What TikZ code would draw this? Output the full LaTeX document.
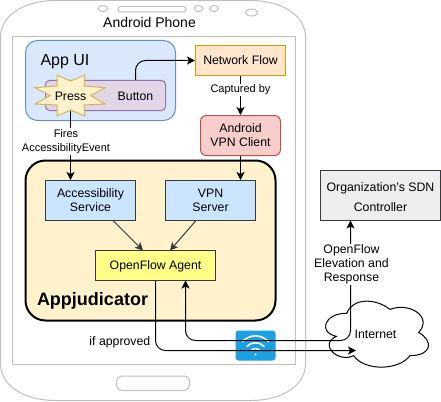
\documentclass[tikz,border=0pt]{standalone}
\usepackage{xcolor}
\usepackage{fontspec}
\setmainfont{Liberation Sans}
\usetikzlibrary{arrows.meta}
\definecolor{phonegray}{RGB}{192, 192, 192}
\definecolor{uifill}{RGB}{218, 232, 252}
\definecolor{uiline}{RGB}{108, 142, 191}
\definecolor{btnfill}{RGB}{225, 213, 231}
\definecolor{btnline}{RGB}{150, 115, 166}
\definecolor{starfill}{RGB}{255, 242, 204}
\definecolor{starline}{RGB}{214, 182, 86}
\definecolor{flowfill}{RGB}{255, 230, 204}
\definecolor{flowline}{RGB}{215, 155, 0}
\definecolor{vpnfill}{RGB}{248, 206, 204}
\definecolor{vpnline}{RGB}{184, 84, 80}
\definecolor{svcfill}{RGB}{204, 229, 255}
\definecolor{darkline}{RGB}{54, 57, 61}
\definecolor{agentfill}{RGB}{255, 255, 136}
\definecolor{sdnfill}{RGB}{238, 238, 238}
\definecolor{wifiblue}{RGB}{27, 161, 226}
\tikzset{
  txt/.style={inner sep=0pt, align=center, font=\fontsize{12.3}{14}\selectfont},
  smalltxt/.style={inner sep=1pt, fill=white, align=center, font=\fontsize{11}{14}\selectfont},
  box/.style={draw=darkline, line width=1pt, align=center, inner sep=0pt, font=\fontsize{12.3}{14}\selectfont},
  phoneline/.style={draw=phonegray, line width=1pt},
  flow/.style={draw=black, line width=1pt, -{Stealth[length=8pt,width=8pt,inset=2pt]}},
  wifiarc/.style={draw=white, line width=1.6pt, line cap=round},
}
\begin{document}
\begin{tikzpicture}[x=1pt,y=-1pt]
\useasboundingbox (0,0) rectangle (441,401);
% phone body
\draw[phoneline, fill=white] (0.5,37) .. controls (0.5,15) and (25,0.5) .. (55,0.5) -- (251,0.5)
  .. controls (281,0.5) and (305.5,15) .. (305.5,37) -- (305.5,364)
  .. controls (305.5,386) and (281,400.5) .. (251,400.5) -- (55,400.5)
  .. controls (25,400.5) and (0.5,386) .. (0.5,364) -- cycle;
\draw[phoneline] (12.5,36.5) rectangle (295,364.5);
\draw[phoneline] (103,8.5) ellipse (5 and 3);
\draw[phoneline, rounded corners=2.5pt] (118,6.5) rectangle (186,12);
\draw[phoneline] (198.5,8.5) ellipse (4.5 and 3);
\draw[phoneline] (214,8.5) ellipse (4.5 and 3);
\draw[phoneline] (251.5,12.5) ellipse (6 and 3.5);
\draw[phoneline, rounded corners=6pt] (116.5,376) rectangle (189.5,390.5);
\node[txt, font=\fontsize{14}{16}\selectfont] (phonelabel) at (149.5,22) {Android Phone};

% app ui
\node[draw=uiline, fill=uifill, line width=1pt, rounded corners=12pt, minimum width=150pt, minimum height=80pt] (appui) at (100.5,80.5) {};
\node[txt, font=\fontsize{16}{18}\selectfont] (applabel) at (65,61.5) {App UI};
\node[draw=btnline, fill=btnfill, line width=1pt, rounded corners=4pt, minimum width=120pt, minimum height=30pt] (appbutton) at (105.5,95.5) {};
\node[txt] (buttonlabel) at (135.5,96) {Button};
\draw[draw=starline, fill=starfill, line width=1pt] (35,87.7) -- (57,86) -- (57,75) -- (70.5,81) -- (85,75) -- (84,86)
  -- (105,87.7) -- (90.7,95.5) -- (105,104) -- (84,105) -- (85,116) -- (70.5,110) -- (57,116) -- (57,105)
  -- (35,104) -- (50.3,95.5) -- cycle;
\node[txt, minimum height=30pt] (press) at (70.5,96) {Press};

% right column
\node[box, draw=flowline, fill=flowfill, minimum width=90pt, minimum height=30pt] (netflow) at (240.5,60.5) {Network Flow};
\node[box, draw=vpnline, fill=vpnfill, rounded corners=6pt, minimum width=80pt, minimum height=40pt] (vpnclient) at (240.5,135.5) {Android\\VPN Client};

% appjudicator
\node[draw=black, fill=starfill, line width=2pt, rounded corners=20pt, minimum width=250pt, minimum height=160pt] (appjud) at (150.5,240.5) {};
\node[txt, font=\fontsize{18}{20}\selectfont\bfseries] (appjudlabel) at (92.5,301) {Appjudicator};
\node[box, fill=svcfill, minimum width=90pt, minimum height=40pt] (access) at (90.5,200.5) {Accessibility\\Service};
\node[box, fill=svcfill, minimum width=90pt, minimum height=40pt] (vpnserver) at (210.5,200.5) {VPN\\Server};
\node[box, fill=agentfill, text depth=0pt, minimum width=120pt, minimum height=30pt] (agent) at (155.5,265.5) {OpenFlow Agent};

% controller and internet
\node[box, fill=sdnfill, minimum width=120pt, minimum height=50pt] (sdn) at (380.5,195.5) {};
\node[txt, font=\fontsize{12.3}{20}\selectfont] (sdnlabel) at (380.5,197) {Organization's SDN\\Controller};
\draw[fill=white, line width=1pt] (346.75,313.25) .. controls (323.75,313.25) and (318,332.5) .. (336.4,336.35)
  .. controls (318,344.8) and (338.7,363.3) .. (353.65,355.6)
  .. controls (364,371) and (398.5,371) .. (410,355.6)
  .. controls (433,355.6) and (433,340.2) .. (418.6,332.5)
  .. controls (433,317.1) and (410,301.7) .. (389.9,309.4)
  .. controls (375.5,297.85) and (352.5,297.85) .. (346.75,313.25) -- cycle;
\node[txt] (internet) at (375.5,334.5) {Internet};

% wifi
\node[fill=wifiblue, rounded corners=3pt, minimum width=40pt, minimum height=30pt] (wifi) at (255.5,345.5) {};
\draw[wifiarc] (242.5,341.5) .. controls (250,334) and (261,334) .. (268.5,341.5);
\draw[wifiarc] (247,346.5) .. controls (251,341.5) and (260,341.5) .. (264,346.5);
\draw[wifiarc] (251,350.5) .. controls (253,348) and (258,348) .. (260,350.5);
\fill[white] (255.5,354.5) circle (1.2);

% connectors
\coordinate (flowstart) at (buttonlabel |- appbutton.north);
\coordinate (agentin) at (185.5,280.5);
\coordinate (sdnin) at (350.5,220.5);
\coordinate (nettip) at (356,350.5);
\draw[flow, rounded corners=10pt] (flowstart) |- (netflow.west);
\draw[flow] (press.south) -- (press.south |- access.north);
\draw[flow] (netflow) -- (vpnclient);
\draw[flow] (vpnclient) -- (vpnclient |- vpnserver.north);
\draw[flow, draw=darkline] (113,220.5) -- (143,250.5);
\draw[flow, draw=darkline] (196,220.5) -- (170,250.5);
\draw[flow, rounded corners=10pt] (agent.south) |- (nettip);
\draw[flow, {Stealth[length=8pt,width=8pt,inset=2pt]}-{Stealth[length=8pt,width=8pt,inset=2pt]}, rounded corners=10pt] (agentin) -- (agentin |- 0,340.5) -- (sdnin |- 0,340.5) -- (sdnin);

% labels on the connectors
\node[smalltxt] (fireslabel) at (66,141.5) {Fires\\AccessibilityEvent};
\node[smalltxt] (capturedlabel) at (240.5,90) {Captured by};
\node[txt, fill=white, inner sep=1pt] (elevlabel) at (351.5,264.5) {OpenFlow\\Elevation and\\Response};
\node[txt, anchor=east] (approvedlabel) at (150.5,342) {if approved};
\end{tikzpicture}
\end{document}
